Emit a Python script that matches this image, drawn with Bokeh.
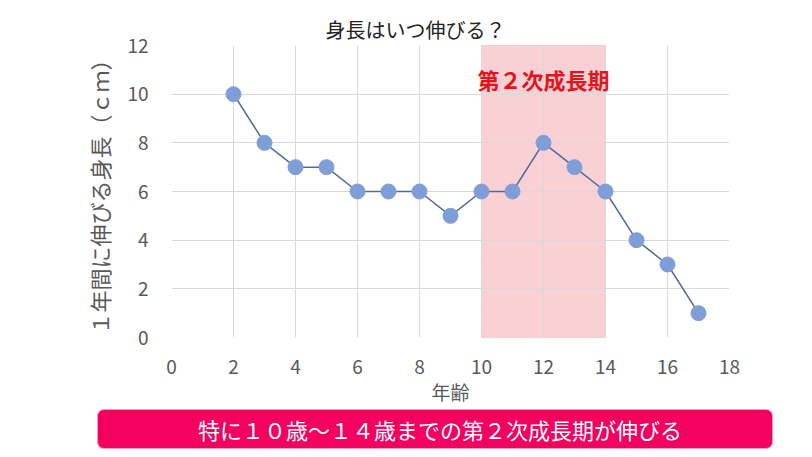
from bokeh.plotting import figure
from bokeh.layouts import column
from bokeh.models import FixedTicker, Range1d, Label, Div
from bokeh.embed import file_html
from bokeh.resources import INLINE

ages = [2, 3, 4, 5, 6, 7, 8, 9, 10, 11, 12, 13, 14, 15, 16, 17]
growth = [10, 8, 7, 7, 6, 6, 6, 5, 6, 6, 8, 7, 6, 4, 3, 1]
band_start = [10]
band_end = [14]
x_ticks = [0, 2, 4, 6, 8, 10, 12, 14, 16, 18]
y_ticks = [0, 2, 4, 6, 8, 10, 12]
title_text = "身長はいつ伸びる？"
x_label = "年齢"
y_label = "１年間に伸びる身長（ｃｍ）"
band_label = "第２次成長期"
banner_text = "特に１０歳～１４歳までの第２次成長期が伸びる"

FONT = "Noto Sans CJK JP"

# frame geometry (pixels)
FL, FR, FT, FB = 171, 729, 45, 337
X0, X1, Y0, Y1 = 0, 18, 0, 12
PLOT_H = 407


def dy(py):
    return Y0 + (FB - py) * (Y1 - Y0) / (FB - FT)


p = figure(width=812, height=PLOT_H, output_backend="svg", toolbar_location=None,
           x_range=Range1d(X0, X1), y_range=Range1d(Y0, Y1),
           min_border_left=FL, min_border_right=812 - FR,
           min_border_top=FT, min_border_bottom=PLOT_H - FB)
p.outline_line_color = None
p.title.text = title_text
p.title.align = "left"
p.title.offset = 154
p.title.standoff = 4
p.title.text_font = FONT
p.title.text_font_size = "20px"
p.title.text_font_style = "normal"
p.title.text_color = "#222222"

for ax in (p.xaxis, p.yaxis):
    ax.axis_line_color = None
    ax.major_tick_line_color = None
    ax.minor_tick_line_color = None
    ax.major_label_text_font = FONT
    ax.major_label_text_font_size = "19px"
    ax.major_label_text_color = "#595959"
    ax.axis_label_text_font = FONT
    ax.axis_label_text_font_style = "normal"
    ax.axis_label_text_color = "#595959"

p.xaxis.ticker = FixedTicker(ticks=x_ticks)
p.yaxis.ticker = FixedTicker(ticks=y_ticks)
p.xaxis.axis_label = x_label
p.yaxis.axis_label = y_label
p.xaxis.major_label_standoff = 16
p.yaxis.major_label_standoff = 17
p.xaxis.axis_label_standoff = 1
p.yaxis.axis_label_standoff = 9
p.xaxis.axis_label_text_font_size = "19px"
p.yaxis.axis_label_text_font_size = "22px"

p.xgrid.ticker = FixedTicker(ticks=x_ticks)
p.ygrid.ticker = FixedTicker(ticks=y_ticks)
p.xgrid.grid_line_color = "#d9d9d9"
p.ygrid.grid_line_color = "#d9d9d9"

p.quad(left=band_start, right=band_end, bottom=[Y0], top=[Y1],
       fill_color="#f9d0d4", line_color="#eaa6ad", line_width=1, level="image")

p.line(ages, growth, line_color="#4f6a9c", line_width=1.5)
p.scatter(ages, growth, size=15, fill_color="#7f9ed8", line_color="#7f9ed8")

p.add_layout(Label(x=(band_start[0] + band_end[0]) / 2, y=dy(78), text=band_label,
                   text_align="center", text_baseline="middle",
                   text_font=FONT, text_font_size="22px", text_font_style="bold",
                   text_color="#e5141c"))

# bottom banner
banner_html = (
    '<div style="position:absolute; left:97px; top:2px; width:676px; height:40px; '
    'box-sizing:border-box; background:#f4005f; border:1.5px solid #f59ac0; '
    'border-radius:7px; color:white; font-family:\'Noto Sans CJK JP\'; '
    'font-size:22px; line-height:38px; text-align:center; padding-left:10px;">'
    + banner_text + '</div>'
)
banner = Div(text=banner_html, width=812, height=457 - PLOT_H,
             styles={"position": "relative", "margin": "0", "padding": "0"})

layout = column(p, banner, spacing=0)
open("out.html", "w").write(file_html(layout, INLINE))
